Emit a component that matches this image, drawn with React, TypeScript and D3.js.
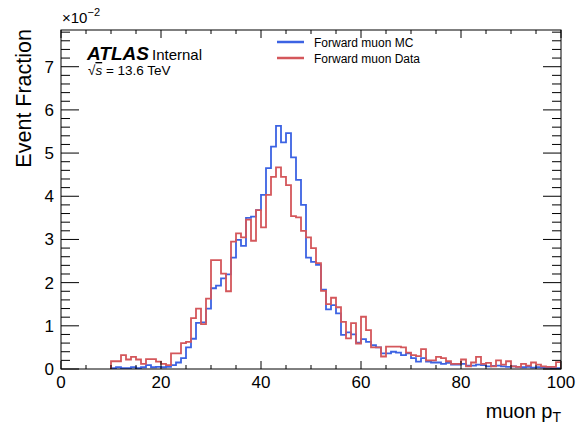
import React from "react";
import * as d3 from "d3";

const binStart = 10;
const binWidth = 1;
const mcValues = [
  0.02, 0.04, 0.02, 0.02, 0.04, 0.02, 0.04, 0.09, 0.04, 0.05,
  0.04, 0.05, 0.09, 0.15, 0.25, 0.5, 0.7, 1.07, 1.08, 1.4,
  1.87, 1.93, 2.1, 2.19, 2.58, 2.99, 2.85, 3.5, 3.53, 3.68,
  4.03, 4.65, 5.15, 5.63, 5.25, 5.46, 4.9, 4.38, 3.8, 2.58,
  2.48, 2.41, 1.84, 1.38, 1.48, 1.29, 0.79, 0.85, 0.8, 0.61,
  0.69, 0.63, 0.55, 0.5, 0.36, 0.36, 0.4, 0.38, 0.32, 0.36,
  0.25, 0.17, 0.25, 0.17, 0.15, 0.15, 0.12, 0.14, 0.1, 0.1,
  0.12, 0.08, 0.08, 0.1, 0.09, 0.06, 0.07, 0.08, 0.06, 0.05,
  0.06, 0.05, 0.04, 0.05, 0.03, 0.04, 0.03, 0.03, 0.02, 0.02,
];
const dataValues = [
  0.18, 0.18, 0.32, 0.22, 0.28, 0.22, 0.12, 0.23, 0.23, 0.17,
  0.12, 0.09, 0.36, 0.36, 0.6, 0.63, 1.18, 1.4, 1.04, 1.63,
  2.52, 2.52, 2.21, 1.8, 2.95, 3.14, 3.05, 3.46, 2.97, 3.68,
  3.28, 4.03, 4.45, 4.67, 4.45, 4.26, 3.54, 3.51, 3.2, 3.05,
  2.8, 2.45, 1.81, 1.5, 1.65, 1.43, 1.09, 0.71, 1.06, 0.59,
  1.21, 0.9, 0.5, 0.5, 0.29, 0.52, 0.52, 0.52, 0.5, 0.38,
  0.32, 0.3, 0.46, 0.2, 0.2, 0.28, 0.25, 0.18, 0.12, 0.12,
  0.22, 0.06, 0.15, 0.28, 0.12, 0.14, 0.06, 0.2, 0.1, 0.18,
  0.06, 0.05, 0.12, 0.08, 0.15, 0.1, 0.06, 0.05, 0.05, 0.16,
];
const xTicks = [0, 20, 40, 60, 80, 100];
const yTicks = [0, 1, 2, 3, 4, 5, 6, 7];
const seriesNames = ["Forward muon MC", "Forward muon Data"];
const seriesColors = ["#3c63e3", "#d4575b"];

const W = 576;
const H = 428;
const left = 61;
const right = 561;
const top = 30;
const bottom = 369;
const FONT = "'Liberation Sans', Arial, Helvetica, sans-serif";

export default function App() {
  const x = d3.scaleLinear().domain([0, 100]).range([left, right]);
  const y = d3.scaleLinear().domain([0, 7.85]).range([bottom, top]);

  const stepPath = (vals: number[]) => {
    const pts: [number, number][] = [[binStart, 0]];
    vals.forEach((v, i) => pts.push([binStart + i * binWidth, v]));
    const end = binStart + vals.length * binWidth;
    pts.push([end, vals[vals.length - 1]]);
    pts.push([end, 0]);
    return d3
      .line<[number, number]>()
      .x((d) => x(d[0]))
      .y((d) => y(d[1]))
      .curve(d3.curveStepAfter)(pts) as string;
  };

  const xMinor = d3.range(0, 101, 5).filter((v) => v % 20 !== 0);
  const yMinor = d3.range(0, 7.81, 0.2).map((v) => Math.round(v * 10) / 10).filter((v) => Math.abs(v - Math.round(v)) > 0.01);

  return (
    <svg width={W} height={H} style={{ position: "absolute", left: 0, top: 0, background: "#fff" }} fontFamily={FONT}>
      <defs>
        <clipPath id="plotclip">
          <rect x={left} y={top} width={right - left} height={bottom - top} />
        </clipPath>
      </defs>
      <rect x={0} y={0} width={W} height={H} fill="#fff" />
      <g clipPath="url(#plotclip)" fill="none" strokeWidth={1.8}>
        <path d={stepPath(mcValues)} stroke={seriesColors[0]} />
        <path d={stepPath(dataValues)} stroke={seriesColors[1]} />
      </g>
      {/* frame */}
      <rect x={left} y={top} width={right - left} height={bottom - top} fill="none" stroke="#000" strokeWidth={1} />
      {/* x ticks */}
      {xTicks.map((t) => (
        <g key={"xt" + t}>
          <line x1={x(t)} x2={x(t)} y1={bottom} y2={bottom - 8} stroke="#000" />
          <line x1={x(t)} x2={x(t)} y1={top} y2={top + 8} stroke="#000" />
          <text x={x(t)} y={388} fontSize={17} textAnchor="middle">{t}</text>
        </g>
      ))}
      {xMinor.map((t) => (
        <g key={"xm" + t}>
          <line x1={x(t)} x2={x(t)} y1={bottom} y2={bottom - 4} stroke="#000" />
          <line x1={x(t)} x2={x(t)} y1={top} y2={top + 4} stroke="#000" />
        </g>
      ))}
      {/* y ticks */}
      {yTicks.map((t) => (
        <g key={"yt" + t}>
          <line x1={left} x2={left + 18} y1={y(t)} y2={y(t)} stroke="#000" />
          <line x1={right} x2={right - 18} y1={y(t)} y2={y(t)} stroke="#000" />
          <text x={54} y={y(t) + 6} fontSize={17} textAnchor="end">{t}</text>
        </g>
      ))}
      {yMinor.map((t) => (
        <g key={"ym" + t}>
          <line x1={left} x2={left + 9} y1={y(t)} y2={y(t)} stroke="#000" />
          <line x1={right} x2={right - 9} y1={y(t)} y2={y(t)} stroke="#000" />
        </g>
      ))}
      {/* exponent */}
      <text x={62} y={23} fontSize={15}>
        ×10
        <tspan dy={-7} fontSize={11}>−2</tspan>
      </text>
      {/* axis titles */}
      <text transform="translate(31,29) rotate(-90)" fontSize={21.5} textAnchor="end">Event Fraction</text>
      <text x={561} y={418} fontSize={20} textAnchor="end">
        muon p<tspan fontSize={14} dy={4}>T</tspan>
      </text>
      {/* ATLAS label */}
      <text x={87} y={60} fontSize={19} fontWeight="bold" fontStyle="italic">ATLAS</text>
      <text x={152} y={60} fontSize={15}>Internal</text>
      <text x={88} y={75} fontSize={13.5}>
        √<tspan textDecoration="overline" fontStyle="italic">s</tspan> = 13.6 TeV
      </text>
      {/* legend */}
      {seriesNames.map((n, i) => (
        <g key={n}>
          <line x1={277} x2={304} y1={42 + i * 16} y2={42 + i * 16} stroke={seriesColors[i]} strokeWidth={2.5} />
          <text x={314} y={46.5 + i * 16} fontSize={12}>{n}</text>
        </g>
      ))}
    </svg>
  );
}
